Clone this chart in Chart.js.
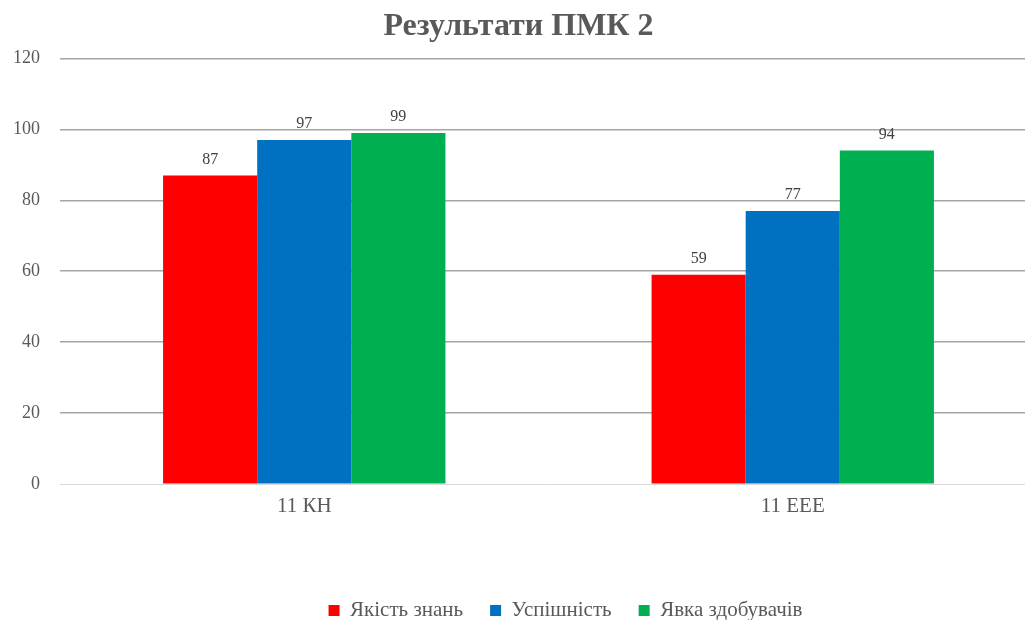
<!DOCTYPE html>
<html>
<head>
<meta charset="utf-8">
<script src="https://cdn.jsdelivr.net/npm/chart.js@4.4.0/dist/chart.umd.min.js"></script>
<style>
  html, body { margin: 0; padding: 0; background: #fff; overflow: hidden; }
  #wrap { width: 1058px; height: 620px; }
</style>
</head>
<body>
<div id="wrap"><canvas id="pmkChart" width="1058" height="620"></canvas></div>
<script>
// categories and series
var groups = ['11 КН', '11 ЕЕЕ'];
var quality = [87, 59];      // Якість знань
var success = [97, 77];      // Успішність
var attendance = [99, 94];   // Явка здобувачів
var seriesNames = ['Якість знань', 'Успішність', 'Явка здобувачів'];
var yTicks = [0, 20, 40, 60, 80, 100, 120];

var serif = "'Liberation Serif', serif";

// draws the number over each bar
var barValues = {
  id: 'barValues',
  afterDatasetsDraw: function (chart) {
    var ctx = chart.ctx;
    ctx.save();
    ctx.font = '16px ' + serif;
    ctx.fillStyle = '#404040';
    ctx.textAlign = 'center';
    ctx.textBaseline = 'bottom';
    chart.data.datasets.forEach(function (ds, i) {
      chart.getDatasetMeta(i).data.forEach(function (bar, j) {
        ctx.fillText(ds.data[j], bar.x, bar.y - 8);
      });
    });
    ctx.restore();
  }
};

// the legend sits right of centre and lower in the original
var legendShift = {
  id: 'legendShift',
  afterLayout: function (chart) {
    chart.legend.left += 47;
    chart.legend.right += 47;
    chart.legend.top += 11;
    chart.legend.bottom += 11;
  }
};

function drawChart() {
  var ctx = document.getElementById('pmkChart').getContext('2d');
  var myChart = new Chart(ctx, {
    type: 'bar',
    data: {
      labels: groups,
      datasets: [
        { label: seriesNames[0], data: quality, backgroundColor: '#ff0000' },
        { label: seriesNames[1], data: success, backgroundColor: '#0070c0' },
        { label: seriesNames[2], data: attendance, backgroundColor: '#00b050' }
      ]
    },
    options: {
      responsive: false,
      animation: false,
      categoryPercentage: 0.578,
      barPercentage: 1,
      layout: { padding: { left: 0, right: 21, top: 0, bottom: 0 } },
      plugins: {
        title: {
          display: true,
          text: 'Результати ПМК 2',
          color: '#595959',
          font: { family: serif, size: 32, weight: 'bold' },
          padding: { top: 8, bottom: 12 }
        },
        legend: {
          position: 'bottom',
          labels: {
            color: '#595959',
            font: { family: serif, size: 21 },
            boxWidth: 11,
            boxHeight: 11,
            padding: 27
          }
        },
        tooltip: { enabled: false }
      },
      scales: {
        x: {
          grid: { display: false, drawTicks: false },
          border: { display: false },
          ticks: { color: '#595959', font: { family: serif, size: 21 }, padding: 10 },
          afterFit: function (s) { s.height = 78; }
        },
        y: {
          min: 0,
          max: 120,
          afterBuildTicks: function (s) { s.ticks = yTicks.map(function (v) { return { value: v }; }); },
          border: { display: false },
          grid: {
            drawTicks: false,
            color: function (c) { return c.tick && c.tick.value === 0 ? '#d9d9d9' : '#a6a6a6'; },
            lineWidth: function (c) { return c.tick && c.tick.value === 0 ? 1 : 1.5; }
          },
          ticks: { color: '#595959', font: { family: serif, size: 18 }, padding: 20 },
          afterFit: function (s) { s.width = 60; }
        }
      }
    },
    plugins: [barValues, legendShift]
  });
}

Promise.all([
  document.fonts.load("21px 'Liberation Serif'"),
  document.fonts.load("bold 32px 'Liberation Serif'")
]).then(drawChart, drawChart);
</script>
</body>
</html>
